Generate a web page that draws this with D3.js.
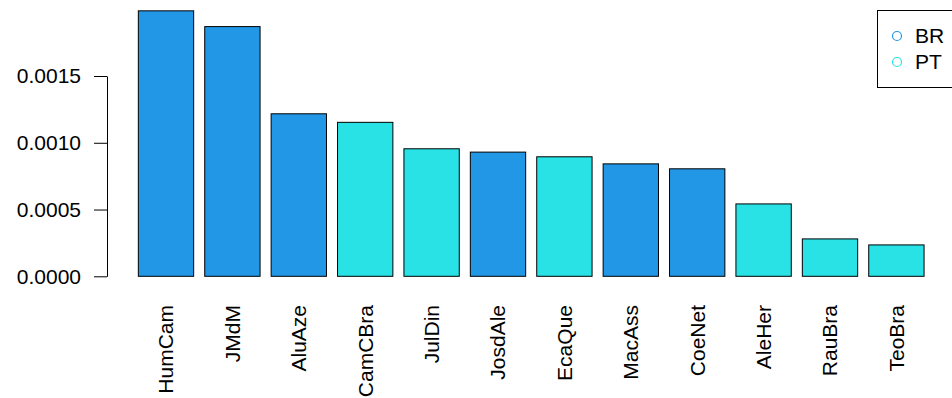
<!DOCTYPE html>
<html>
<head>
<meta charset="utf-8">
<script src="https://cdn.jsdelivr.net/npm/d3@7"></script>
<style>
  html, body { margin: 0; padding: 0; background: #fff; }
  svg { display: block; }
  text { font-family: "Liberation Sans", Arial, Helvetica, sans-serif; fill: #000; }
</style>
</head>
<body>
<svg id="chart" width="952" height="398"></svg>
<script>
// Per-author relative frequency, sorted descending
const authors = ["HumCam", "JMdM", "AluAze", "CamCBra", "JulDin", "JosdAle",
                 "EcaQue", "MacAss", "CoeNet", "AleHer", "RauBra", "TeoBra"];
const origin  = ["BR", "BR", "BR", "PT", "PT", "BR",
                 "PT", "BR", "BR", "PT", "PT", "PT"];
const freq    = [0.001988, 0.001870, 0.001217, 0.001153, 0.000955, 0.000930,
                 0.000895, 0.000842, 0.000805, 0.000542, 0.000280, 0.000235];
const yTicks  = [0, 0.0005, 0.0010, 0.0015];
const legendKeys = ["BR", "PT"];
const legendColors = ["#2297E6", "#28E2E5"];

const svg = d3.select("#chart");
const FONT = 21;

const x = d3.scaleBand()
  .domain(authors)
  .range([132.8, 929.6])
  .paddingInner(1 / 6)
  .paddingOuter(1 / 12);

const y = d3.scaleLinear()
  .domain([0, 0.0015])
  .range([276.3, 76]);

const color = d3.scaleOrdinal().domain(legendKeys).range(legendColors);

// bars
svg.append("g")
  .selectAll("rect")
  .data(authors)
  .join("rect")
  .attr("x", d => x(d))
  .attr("width", x.bandwidth())
  .attr("y", (d, i) => y(freq[i]))
  .attr("height", (d, i) => y(0) - y(freq[i]))
  .attr("fill", (d, i) => color(origin[i]))
  .attr("stroke", "#000")
  .attr("stroke-width", 1);

// y axis
const yAxis = svg.append("g")
  .attr("transform", "translate(107,0)")
  .call(d3.axisLeft(y)
    .tickValues(yTicks)
    .tickFormat(d3.format(".4f"))
    .tickSize(13)
    .tickSizeOuter(0)
    .tickPadding(13));
yAxis.selectAll("path, line").attr("stroke", "#000").attr("stroke-width", 1);
yAxis.selectAll("text")
  .style("font-size", FONT + "px")
  .style("font-family", "'Liberation Sans', Arial, Helvetica, sans-serif")
  .attr("fill", "#000");

// category labels, rotated
svg.append("g")
  .selectAll("text")
  .data(authors)
  .join("text")
  .attr("transform", d => `translate(${x(d) + x.bandwidth() / 2},305) rotate(-90)`)
  .attr("text-anchor", "end")
  .attr("dy", "0.35em")
  .style("font-size", FONT + "px")
  .text(d => d);

// legend
const lg = svg.append("g");
lg.append("rect")
  .attr("x", 877.5).attr("y", 10.5)
  .attr("width", 90).attr("height", 77)
  .attr("fill", "#fff").attr("stroke", "#000").attr("stroke-width", 1);
const item = lg.selectAll("g.item")
  .data(legendKeys)
  .join("g")
  .attr("class", "item")
  .attr("transform", (d, i) => `translate(0,${36 + i * 26})`);
item.append("circle")
  .attr("cx", 897).attr("cy", 0).attr("r", 4.5)
  .attr("fill", "none").attr("stroke", d => color(d)).attr("stroke-width", 1.2);
item.append("text")
  .attr("x", 915).attr("y", 0).attr("dy", "0.35em")
  .style("font-size", FONT + "px")
  .text(d => d);
</script>
</body>
</html>
